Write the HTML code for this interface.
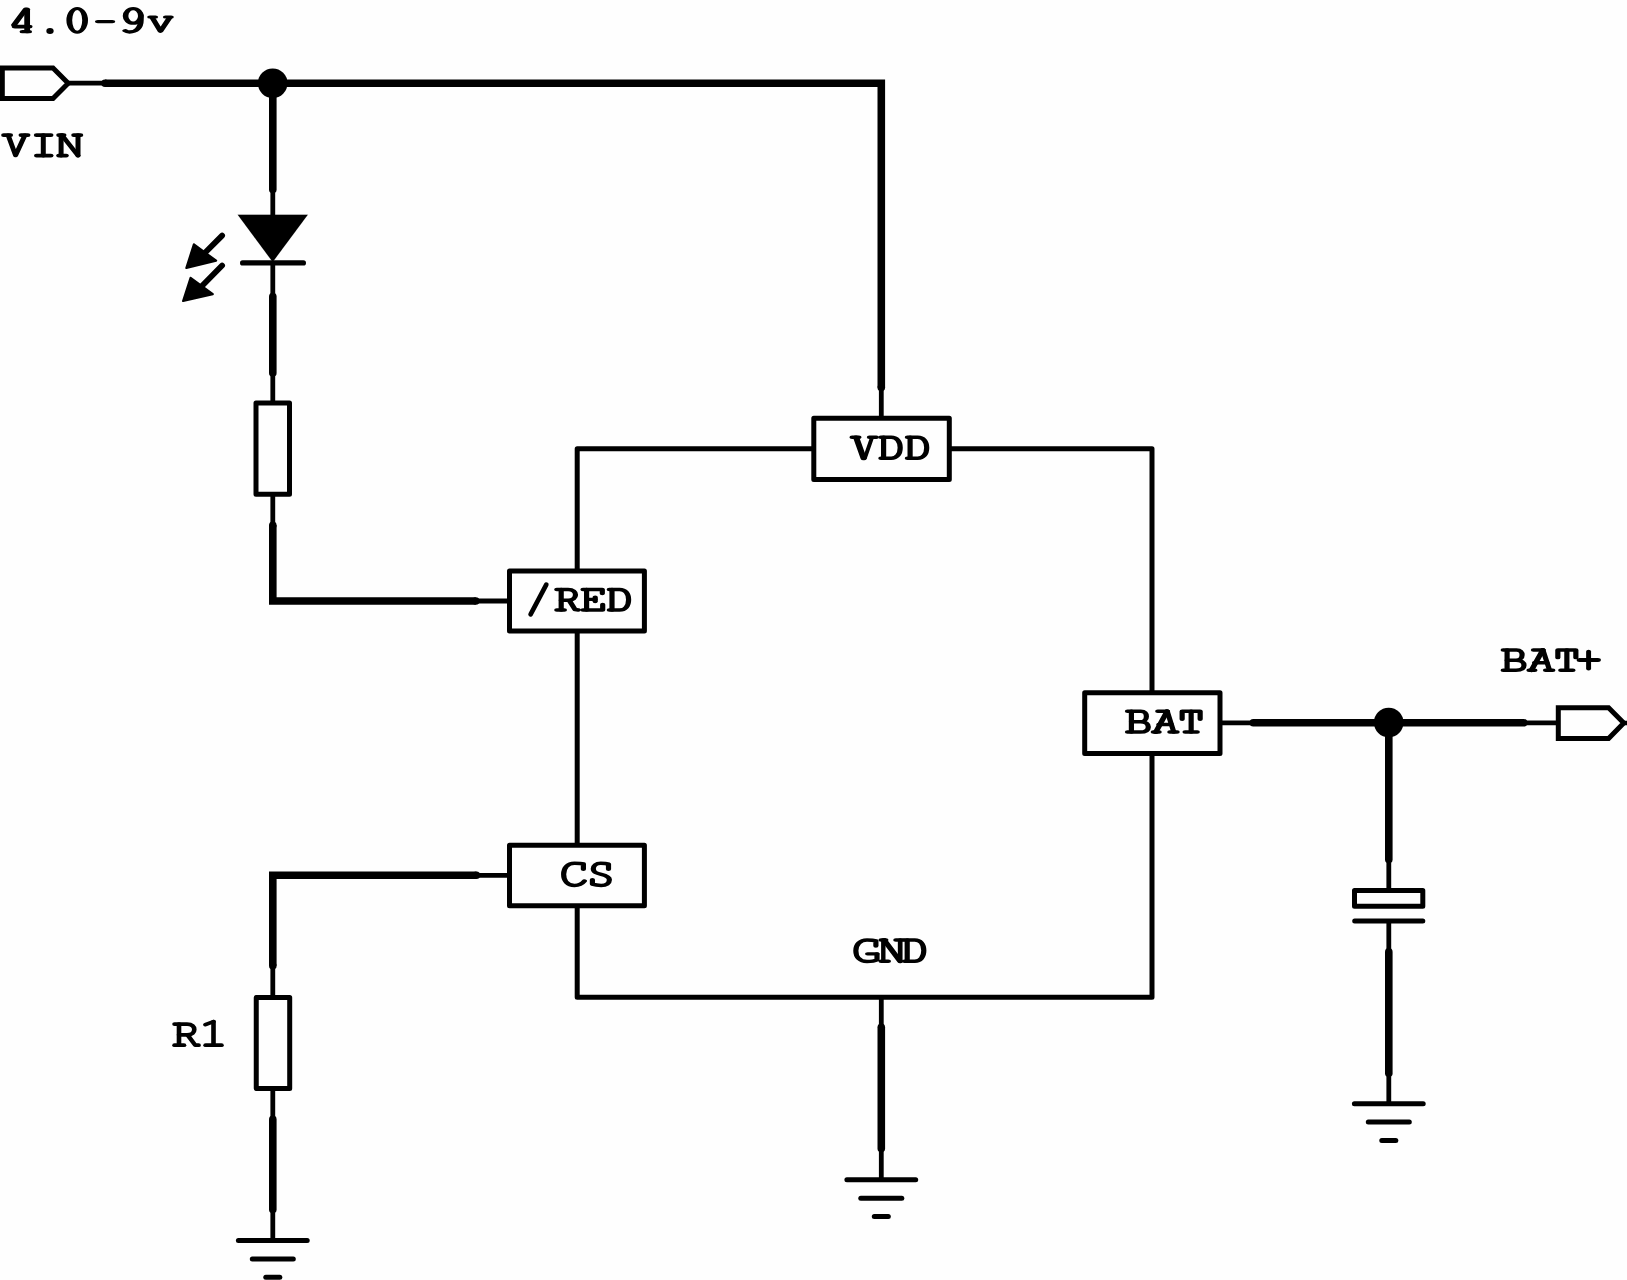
<!DOCTYPE html>
<html><head><meta charset="utf-8"><title>Charger schematic</title>
<style>
html,body{margin:0;padding:0;background:#fefefe;width:1627px;height:1280px;overflow:hidden;}
svg{display:block;}


</style></head><body>
<svg width="1627" height="1280" viewBox="0 0 1627 1280">
<g stroke="#000" fill="none">
<path d="M 2.3 68 L 53 68 L 68.2 83.2 L 53 98.5 L 2.3 98.5 Z" stroke-width="5" fill="none" stroke-linejoin="miter" stroke-miterlimit="4"/>
<line x1="68" y1="83.2" x2="104" y2="83.2" stroke-width="4.8" stroke-linecap="butt"/>
<path d="M 105 83.2 L 881.3 83.2 L 881.3 387.5" stroke-width="7.6" fill="none" stroke-linejoin="miter" stroke-linecap="butt"/>
<circle cx="105" cy="83.2" r="3.8" stroke="none" fill="#000"/>
<circle cx="881.3" cy="387.5" r="3.8" stroke="none" fill="#000"/>
<line x1="881.3" y1="386" x2="881.3" y2="418.3" stroke-width="4.8" stroke-linecap="butt"/>
<circle cx="272.7" cy="83.2" r="14.8" fill="#000" stroke="none"/>
<line x1="272.8" y1="83.2" x2="272.8" y2="189.5" stroke-width="7.6" stroke-linecap="round"/>
<line x1="272.8" y1="188" x2="272.8" y2="216" stroke-width="4.8" stroke-linecap="butt"/>
<polygon points="237.7,214.7 307.8,214.7 272.7,262" stroke-width="0.1" fill="#000" stroke-linejoin="round"/>
<line x1="242.6" y1="262.9" x2="303.4" y2="262.9" stroke-width="5.2" stroke-linecap="round"/>
<line x1="272.8" y1="262" x2="272.8" y2="298" stroke-width="4.8" stroke-linecap="butt"/>
<line x1="272.8" y1="296.5" x2="272.8" y2="373" stroke-width="7.6" stroke-linecap="round"/>
<line x1="272.8" y1="371" x2="272.8" y2="403" stroke-width="4.8" stroke-linecap="butt"/>
<rect x="256" y="402.9" width="33.5" height="91.40000000000003" stroke-width="5.0" fill="none" stroke-linejoin="round"/>
<line x1="272.8" y1="494" x2="272.8" y2="527" stroke-width="4.8" stroke-linecap="butt"/>
<path d="M 272.8 525.3 L 272.8 601 L 475.8 601" stroke-width="7.6" fill="none" stroke-linejoin="miter" stroke-linecap="butt"/>
<circle cx="272.8" cy="525.3" r="3.8" stroke="none" fill="#000"/>
<circle cx="475.8" cy="601" r="3.8" stroke="none" fill="#000"/>
<line x1="474" y1="601" x2="509.5" y2="601" stroke-width="4.8" stroke-linecap="butt"/>
<line x1="222.1" y1="235.6" x2="205" y2="252.7" stroke-width="5.8" stroke-linecap="round"/>
<polygon points="193.9,244.4 216.1,260.7 186.4,267.9" stroke-width="2.2" fill="#000" stroke-linejoin="round"/>
<line x1="222.1" y1="265.5" x2="201.7" y2="286.2" stroke-width="5.8" stroke-linecap="round"/>
<polygon points="190.6,277.9 212.8,294.2 183.1,301" stroke-width="2.2" fill="#000" stroke-linejoin="round"/>
<path d="M 577.2 570.9 L 577.2 448.7 L 813.8 448.7" stroke-width="5.0" fill="none" stroke-linejoin="round" stroke-linecap="butt"/>
<path d="M 949.3 448.7 L 1152 448.7 L 1152 692.7" stroke-width="5.0" fill="none" stroke-linejoin="round" stroke-linecap="butt"/>
<line x1="577.2" y1="631.1" x2="577.2" y2="845.2" stroke-width="5.0" stroke-linecap="butt"/>
<path d="M 577.2 905.7 L 577.2 997.3 L 1152 997.3 L 1152 753.6" stroke-width="5.0" fill="none" stroke-linejoin="round" stroke-linecap="butt"/>
<rect x="813.8" y="418.3" width="135.5" height="61.19999999999999" stroke-width="5.0" fill="none" stroke-linejoin="round"/>
<rect x="509.5" y="570.9" width="134.89999999999998" height="60.200000000000045" stroke-width="5.0" fill="none" stroke-linejoin="round"/>
<rect x="509.5" y="845.2" width="134.89999999999998" height="60.5" stroke-width="5.0" fill="none" stroke-linejoin="round"/>
<rect x="1084.7" y="692.7" width="135.29999999999995" height="60.89999999999998" stroke-width="5.0" fill="none" stroke-linejoin="round"/>
<line x1="474" y1="875.3" x2="509.5" y2="875.3" stroke-width="4.8" stroke-linecap="butt"/>
<path d="M 476.4 875.3 L 272.8 875.3 L 272.8 965.8" stroke-width="7.6" fill="none" stroke-linejoin="miter" stroke-linecap="butt"/>
<circle cx="476.4" cy="875.3" r="3.8" stroke="none" fill="#000"/>
<circle cx="272.8" cy="965.8" r="3.8" stroke="none" fill="#000"/>
<line x1="272.8" y1="964" x2="272.8" y2="998" stroke-width="4.8" stroke-linecap="butt"/>
<rect x="256.25" y="997.5" width="33.44999999999999" height="90.90000000000009" stroke-width="5.0" fill="none" stroke-linejoin="round"/>
<line x1="272.8" y1="1088" x2="272.8" y2="1121" stroke-width="4.8" stroke-linecap="butt"/>
<line x1="272.8" y1="1119.4" x2="272.8" y2="1209.5" stroke-width="7.6" stroke-linecap="round"/>
<line x1="272.8" y1="1208" x2="272.8" y2="1240.5" stroke-width="4.8" stroke-linecap="butt"/>
<line x1="238.4" y1="1240.5" x2="307.2" y2="1240.5" stroke-width="5" stroke-linecap="round"/>
<line x1="252.3" y1="1258.9" x2="293.3" y2="1258.9" stroke-width="5" stroke-linecap="round"/>
<line x1="265.8" y1="1277.3" x2="279.8" y2="1277.3" stroke-width="5" stroke-linecap="round"/>
<line x1="881.3" y1="997.3" x2="881.3" y2="1029" stroke-width="4.8" stroke-linecap="butt"/>
<line x1="881.3" y1="1027.3" x2="881.3" y2="1148.5" stroke-width="7.6" stroke-linecap="round"/>
<line x1="881.3" y1="1147" x2="881.3" y2="1179.8" stroke-width="4.8" stroke-linecap="butt"/>
<line x1="846.9" y1="1179.8" x2="915.6999999999999" y2="1179.8" stroke-width="5" stroke-linecap="round"/>
<line x1="860.8" y1="1198.2" x2="901.8" y2="1198.2" stroke-width="5" stroke-linecap="round"/>
<line x1="874.3" y1="1216.6" x2="888.3" y2="1216.6" stroke-width="5" stroke-linecap="round"/>
<line x1="1220" y1="722.8" x2="1255" y2="722.8" stroke-width="4.8" stroke-linecap="butt"/>
<line x1="1253.3" y1="722.8" x2="1523.7" y2="722.8" stroke-width="7.6" stroke-linecap="round"/>
<line x1="1522" y1="722.8" x2="1558.5" y2="722.8" stroke-width="4.8" stroke-linecap="butt"/>
<circle cx="1388.7" cy="722.5" r="14.8" fill="#000" stroke="none"/>
<line x1="1388.8" y1="722.8" x2="1388.8" y2="859.6" stroke-width="7.6" stroke-linecap="round"/>
<line x1="1388.8" y1="857" x2="1388.8" y2="890.6" stroke-width="4.8" stroke-linecap="butt"/>
<rect x="1354.5" y="890.6" width="68.29999999999995" height="15.600000000000023" stroke-width="5.0" fill="none" stroke-linejoin="round"/>
<line x1="1354.7" y1="920.9" x2="1422.8" y2="920.9" stroke-width="5" stroke-linecap="round"/>
<line x1="1388.8" y1="920.9" x2="1388.8" y2="953" stroke-width="4.8" stroke-linecap="butt"/>
<line x1="1388.8" y1="951.9" x2="1388.8" y2="1073.2" stroke-width="7.6" stroke-linecap="round"/>
<line x1="1388.8" y1="1071" x2="1388.8" y2="1103.7" stroke-width="4.8" stroke-linecap="butt"/>
<line x1="1354.3999999999999" y1="1103.7" x2="1423.2" y2="1103.7" stroke-width="5" stroke-linecap="round"/>
<line x1="1368.3" y1="1122.1000000000001" x2="1409.3" y2="1122.1000000000001" stroke-width="5" stroke-linecap="round"/>
<line x1="1381.8" y1="1140.5" x2="1395.8" y2="1140.5" stroke-width="5" stroke-linecap="round"/>
<path d="M 1558.3 707.7 L 1608.6 707.7 L 1623.8 723 L 1608.6 738.5 L 1558.3 738.5 Z" stroke-width="5" fill="none" stroke-linejoin="miter" stroke-miterlimit="4"/>
<line x1="1622" y1="723" x2="1627" y2="723" stroke-width="4.5" stroke-linecap="butt"/>
<line x1="530.6" y1="614.4" x2="546.3" y2="584.6" stroke-width="4.7" stroke-linecap="round"/>
</g>
<g style="opacity:0.999">
<path d="M 49.80 9.20 L 49.80 31.65" transform="translate(80,0) scale(1.75,1) translate(-80,0)" stroke="#000" stroke-width="3.3" fill="none" stroke-linecap="round" stroke-linejoin="round"/>
<path d="M 49.03 9.20 L 42.29 25.00" transform="translate(80,0) scale(1.75,1) translate(-80,0)" stroke="#000" stroke-width="3.3" fill="none" stroke-linecap="round" stroke-linejoin="round"/>
<path d="M 42.86 26.55 L 50.97 26.55" transform="translate(80,0) scale(1.75,1) translate(-80,0)" stroke="#000" stroke-width="3.8" fill="none" stroke-linecap="round" stroke-linejoin="round"/>
<path d="M 47.09 31.65 L 50.97 31.65" transform="translate(80,0) scale(1.75,1) translate(-80,0)" stroke="#000" stroke-width="3.3" fill="none" stroke-linecap="round" stroke-linejoin="round"/>
<ellipse cx="50" cy="31" rx="3.7" ry="3.05" fill="#000" stroke="none"/>
<path d="M 66.4 20.3 A 10.8 13.4 0 1 0 88 20.3 A 10.8 13.4 0 1 0 66.4 20.3 Z M 72.2 20.35 A 5 10.35 0 1 0 82.2 20.35 A 5 10.35 0 1 0 72.2 20.35 Z" fill="#000" fill-rule="evenodd" stroke="none"/>
<path d="M 90.17 21.60 L 98.51 21.60" transform="translate(80,0) scale(1.75,1) translate(-80,0)" stroke="#000" stroke-width="3.3" fill="none" stroke-linecap="round" stroke-linejoin="round"/>
<ellipse cx="110.40" cy="15.9" rx="4.37" ry="7.3" transform="translate(80,0) scale(1.75,1) translate(-80,0)" stroke="#000" stroke-width="3.2" fill="none"/>
<path d="M 114.77 15.00 L 114.77 20.00 C 114.77 28.00 112.00 32.00 108.29 32.00 C 107.14 32.00 106.46 31.50 105.89 30.80" transform="translate(80,0) scale(1.75,1) translate(-80,0)" stroke="#000" stroke-width="3.3" fill="none" stroke-linecap="round" stroke-linejoin="round"/>
<path d="M 119.89 17.10 L 123.14 17.10" transform="translate(80,0) scale(1.75,1) translate(-80,0)" stroke="#000" stroke-width="3.0" fill="none" stroke-linecap="round" stroke-linejoin="round"/>
<path d="M 128.86 17.10 L 132.11 17.10" transform="translate(80,0) scale(1.75,1) translate(-80,0)" stroke="#000" stroke-width="3.0" fill="none" stroke-linecap="round" stroke-linejoin="round"/>
<path d="M 121.26 17.60 L 126.00 31.30 L 131.20 17.60" transform="translate(80,0) scale(1.75,1) translate(-80,0)" stroke="#000" stroke-width="3.2" fill="none" stroke-linecap="round" stroke-linejoin="round"/>
<path d="M 13.04 135.05 L 18.22 135.05" transform="translate(40,0) scale(1.35,1) translate(-40,0)" stroke="#000" stroke-width="3.7" fill="none" stroke-linecap="round" stroke-linejoin="round"/>
<path d="M 25.93 135.05 L 31.11 135.05" transform="translate(40,0) scale(1.35,1) translate(-40,0)" stroke="#000" stroke-width="3.7" fill="none" stroke-linecap="round" stroke-linejoin="round"/>
<path d="M 16.44 135.30 L 21.93 155.40 L 28.74 135.30" transform="translate(40,0) scale(1.35,1) translate(-40,0)" stroke="#000" stroke-width="3.7" fill="none" stroke-linecap="round" stroke-linejoin="round"/>
<path d="M 37.26 135.05 L 48.15 135.05" transform="translate(40,0) scale(1.35,1) translate(-40,0)" stroke="#000" stroke-width="3.7" fill="none" stroke-linecap="round" stroke-linejoin="round"/>
<path d="M 42.44 135.05 L 42.44 155.60" transform="translate(40,0) scale(1.35,1) translate(-40,0)" stroke="#000" stroke-width="3.7" fill="none" stroke-linecap="round" stroke-linejoin="round"/>
<path d="M 37.41 155.60 L 48.15 155.60" transform="translate(40,0) scale(1.35,1) translate(-40,0)" stroke="#000" stroke-width="3.7" fill="none" stroke-linecap="round" stroke-linejoin="round"/>
<path d="M 53.85 135.05 L 57.78 135.05" transform="translate(40,0) scale(1.35,1) translate(-40,0)" stroke="#000" stroke-width="3.7" fill="none" stroke-linecap="round" stroke-linejoin="round"/>
<path d="M 55.63 135.05 L 55.63 155.60" transform="translate(40,0) scale(1.35,1) translate(-40,0)" stroke="#000" stroke-width="3.7" fill="none" stroke-linecap="round" stroke-linejoin="round"/>
<path d="M 53.85 155.60 L 59.48 155.60" transform="translate(40,0) scale(1.35,1) translate(-40,0)" stroke="#000" stroke-width="3.7" fill="none" stroke-linecap="round" stroke-linejoin="round"/>
<path d="M 56.30 135.30 L 68.15 155.60" transform="translate(40,0) scale(1.35,1) translate(-40,0)" stroke="#000" stroke-width="3.7" fill="none" stroke-linecap="round" stroke-linejoin="round"/>
<path d="M 68.15 135.05 L 68.15 155.60" transform="translate(40,0) scale(1.35,1) translate(-40,0)" stroke="#000" stroke-width="3.7" fill="none" stroke-linecap="round" stroke-linejoin="round"/>
<path d="M 64.96 135.05 L 70.22 135.05" transform="translate(40,0) scale(1.35,1) translate(-40,0)" stroke="#000" stroke-width="3.7" fill="none" stroke-linecap="round" stroke-linejoin="round"/>
<path d="M 179.60 1024.05 L 189.60 1024.05 C 193.84 1024.05 195.44 1026.60 195.44 1029.40 C 195.44 1032.30 193.84 1034.80 189.60 1034.80 L 183.20 1034.80" transform="translate(200,0) scale(1.25,1) translate(-200,0)" stroke="#000" stroke-width="3.7" fill="none" stroke-linecap="round" stroke-linejoin="round"/>
<path d="M 183.20 1024.05 L 183.20 1045.15" transform="translate(200,0) scale(1.25,1) translate(-200,0)" stroke="#000" stroke-width="3.7" fill="none" stroke-linecap="round" stroke-linejoin="round"/>
<path d="M 179.60 1045.15 L 187.20 1045.15" transform="translate(200,0) scale(1.25,1) translate(-200,0)" stroke="#000" stroke-width="3.7" fill="none" stroke-linecap="round" stroke-linejoin="round"/>
<path d="M 190.40 1035.50 L 196.16 1045.15 L 198.88 1045.15" transform="translate(200,0) scale(1.25,1) translate(-200,0)" stroke="#000" stroke-width="3.7" fill="none" stroke-linecap="round" stroke-linejoin="round"/>
<path d="M 210.80 1021.60 L 210.80 1045.15" transform="translate(200,0) scale(1.25,1) translate(-200,0)" stroke="#000" stroke-width="3.7" fill="none" stroke-linecap="round" stroke-linejoin="round"/>
<path d="M 210.80 1021.60 L 204.32 1024.60" transform="translate(200,0) scale(1.25,1) translate(-200,0)" stroke="#000" stroke-width="3.7" fill="none" stroke-linecap="round" stroke-linejoin="round"/>
<path d="M 204.48 1045.15 L 217.20 1045.15" transform="translate(200,0) scale(1.25,1) translate(-200,0)" stroke="#000" stroke-width="3.7" fill="none" stroke-linecap="round" stroke-linejoin="round"/>
<path d="M 855.16 437.20 L 859.77 437.20" transform="translate(861.4,0) scale(1.5,1) translate(-861.4,0)" stroke="#000" stroke-width="3.46" fill="none" stroke-linecap="round" stroke-linejoin="round"/>
<path d="M 866.73 437.20 L 871.37 437.20" transform="translate(861.4,0) scale(1.5,1) translate(-861.4,0)" stroke="#000" stroke-width="3.46" fill="none" stroke-linecap="round" stroke-linejoin="round"/>
<path d="M 857.93 437.50 L 862.87 458.20" transform="translate(861.4,0) scale(1.5,1) translate(-861.4,0)" stroke="#000" stroke-width="4.09" fill="none" stroke-linecap="round" stroke-linejoin="round"/>
<path d="M 868.47 437.50 L 863.67 458.20" transform="translate(861.4,0) scale(1.5,1) translate(-861.4,0)" stroke="#000" stroke-width="2.73" fill="none" stroke-linecap="round" stroke-linejoin="round"/>
<path d="M 883.96 437.20 L 890.87 437.20 C 894.53 437.20 896.87 441.20 896.87 447.70 C 896.87 454.20 894.53 458.20 890.87 458.20 L 883.96 458.20" transform="translate(890.2,0) scale(1.5,1) translate(-890.2,0)" stroke="#000" stroke-width="3.46" fill="none" stroke-linecap="round" stroke-linejoin="round"/>
<path d="M 885.80 437.20 L 885.80 458.20" transform="translate(890.2,0) scale(1.5,1) translate(-890.2,0)" stroke="#000" stroke-width="3.46" fill="none" stroke-linecap="round" stroke-linejoin="round"/>
<path d="M 910.46 437.20 L 917.37 437.20 C 921.03 437.20 923.37 441.20 923.37 447.70 C 923.37 454.20 921.03 458.20 917.37 458.20 L 910.46 458.20" transform="translate(916.7,0) scale(1.5,1) translate(-916.7,0)" stroke="#000" stroke-width="3.46" fill="none" stroke-linecap="round" stroke-linejoin="round"/>
<path d="M 912.30 437.20 L 912.30 458.20" transform="translate(916.7,0) scale(1.5,1) translate(-916.7,0)" stroke="#000" stroke-width="3.46" fill="none" stroke-linecap="round" stroke-linejoin="round"/>
<path d="M 559.86 589.50 L 567.43 589.50 C 570.77 589.50 572.37 591.94 572.37 594.87 C 572.37 597.80 570.77 600.24 567.43 600.24 L 562.83 600.24" transform="translate(566.1,0) scale(1.5,1) translate(-566.1,0)" stroke="#000" stroke-width="3.46" fill="none" stroke-linecap="round" stroke-linejoin="round"/>
<path d="M 562.83 589.50 L 562.83 610.00" transform="translate(566.1,0) scale(1.5,1) translate(-566.1,0)" stroke="#000" stroke-width="3.46" fill="none" stroke-linecap="round" stroke-linejoin="round"/>
<path d="M 559.86 610.00 L 564.97 610.00" transform="translate(566.1,0) scale(1.5,1) translate(-566.1,0)" stroke="#000" stroke-width="3.46" fill="none" stroke-linecap="round" stroke-linejoin="round"/>
<path d="M 568.37 600.73 L 572.10 609.61 L 574.23 610.00" transform="translate(566.1,0) scale(1.5,1) translate(-566.1,0)" stroke="#000" stroke-width="3.57" fill="none" stroke-linecap="round" stroke-linejoin="round"/>
<path d="M 586.06 589.50 L 598.97 589.50 L 598.97 593.60" transform="translate(592.3,0) scale(1.5,1) translate(-592.3,0)" stroke="#000" stroke-width="3.46" fill="none" stroke-linecap="round" stroke-linejoin="round"/>
<path d="M 588.50 589.50 L 588.50 610.00" transform="translate(592.3,0) scale(1.5,1) translate(-592.3,0)" stroke="#000" stroke-width="3.46" fill="none" stroke-linecap="round" stroke-linejoin="round"/>
<path d="M 588.50 599.36 L 594.23 599.36" transform="translate(592.3,0) scale(1.5,1) translate(-592.3,0)" stroke="#000" stroke-width="3.46" fill="none" stroke-linecap="round" stroke-linejoin="round"/>
<path d="M 594.23 597.11 L 594.23 601.60" transform="translate(592.3,0) scale(1.5,1) translate(-592.3,0)" stroke="#000" stroke-width="3.46" fill="none" stroke-linecap="round" stroke-linejoin="round"/>
<path d="M 586.06 610.00 L 599.23 610.00 L 599.23 604.53" transform="translate(592.3,0) scale(1.5,1) translate(-592.3,0)" stroke="#000" stroke-width="3.46" fill="none" stroke-linecap="round" stroke-linejoin="round"/>
<path d="M 612.36 589.50 L 619.27 589.50 C 622.93 589.50 625.27 593.40 625.27 599.75 C 625.27 606.10 622.93 610.00 619.27 610.00 L 612.36 610.00" transform="translate(618.6,0) scale(1.5,1) translate(-618.6,0)" stroke="#000" stroke-width="3.46" fill="none" stroke-linecap="round" stroke-linejoin="round"/>
<path d="M 614.20 589.50 L 614.20 610.00" transform="translate(618.6,0) scale(1.5,1) translate(-618.6,0)" stroke="#000" stroke-width="3.46" fill="none" stroke-linecap="round" stroke-linejoin="round"/>
<path d="M 579.93 869.30 L 579.93 863.90 C 578.33 863.20 576.33 863.20 574.00 863.20 C 569.33 863.20 566.76 867.80 566.76 874.30 C 566.76 880.90 569.33 885.40 574.00 885.40 C 576.67 885.40 579.00 884.10 580.60 881.00" transform="translate(573.0,0) scale(1.5,1) translate(-573.0,0)" stroke="#000" stroke-width="3.46" fill="none" stroke-linecap="round" stroke-linejoin="round"/>
<path d="M 606.40 869.30 L 606.40 864.10 C 604.87 863.30 603.20 863.20 601.20 863.20 C 598.20 863.20 596.27 865.50 596.27 868.80 C 596.27 872.30 598.53 873.30 601.53 874.30 C 604.53 875.30 607.00 876.50 607.00 879.80 C 607.00 883.30 604.87 885.40 601.53 885.40 C 599.20 885.40 597.20 884.90 595.67 884.10 L 595.67 879.80" transform="translate(602.2,0) scale(1.5,1) translate(-602.2,0)" stroke="#000" stroke-width="3.46" fill="none" stroke-linecap="round" stroke-linejoin="round"/>
<path d="M 1130.56 711.20 L 1139.47 711.20 C 1142.00 711.20 1143.20 713.59 1143.20 716.38 C 1143.20 719.56 1141.60 721.85 1139.13 721.85 L 1133.20 721.85 M 1139.13 721.85 C 1142.80 721.85 1144.47 724.04 1144.47 727.02 C 1144.47 730.11 1142.80 732.10 1139.13 732.10 L 1130.56 732.10" transform="translate(1136.8,0) scale(1.5,1) translate(-1136.8,0)" stroke="#000" stroke-width="3.46" fill="none" stroke-linecap="round" stroke-linejoin="round"/>
<path d="M 1133.20 711.20 L 1133.20 732.10" transform="translate(1136.8,0) scale(1.5,1) translate(-1136.8,0)" stroke="#000" stroke-width="3.46" fill="none" stroke-linecap="round" stroke-linejoin="round"/>
<path d="M 1159.33 711.20 L 1165.67 711.20" transform="translate(1162.6,0) scale(1.5,1) translate(-1162.6,0)" stroke="#000" stroke-width="3.46" fill="none" stroke-linecap="round" stroke-linejoin="round"/>
<path d="M 1165.67 711.20 L 1158.07 732.10" transform="translate(1162.6,0) scale(1.5,1) translate(-1162.6,0)" stroke="#000" stroke-width="3.78" fill="none" stroke-linecap="round" stroke-linejoin="round"/>
<path d="M 1165.67 711.20 L 1170.07 732.10" transform="translate(1162.6,0) scale(1.5,1) translate(-1162.6,0)" stroke="#000" stroke-width="3.46" fill="none" stroke-linecap="round" stroke-linejoin="round"/>
<path d="M 1160.07 724.54 L 1168.47 724.54" transform="translate(1162.6,0) scale(1.5,1) translate(-1162.6,0)" stroke="#000" stroke-width="3.46" fill="none" stroke-linecap="round" stroke-linejoin="round"/>
<path d="M 1156.36 732.10 L 1160.33 732.10" transform="translate(1162.6,0) scale(1.5,1) translate(-1162.6,0)" stroke="#000" stroke-width="3.46" fill="none" stroke-linecap="round" stroke-linejoin="round"/>
<path d="M 1167.40 732.10 L 1172.31 732.10" transform="translate(1162.6,0) scale(1.5,1) translate(-1162.6,0)" stroke="#000" stroke-width="3.46" fill="none" stroke-linecap="round" stroke-linejoin="round"/>
<path d="M 1185.26 719.16 L 1185.26 711.20 L 1197.27 711.20 L 1197.27 719.16" transform="translate(1191.5,0) scale(1.5,1) translate(-1191.5,0)" stroke="#000" stroke-width="3.46" fill="none" stroke-linecap="round" stroke-linejoin="round"/>
<path d="M 1191.27 711.20 L 1191.27 732.10" transform="translate(1191.5,0) scale(1.5,1) translate(-1191.5,0)" stroke="#000" stroke-width="3.46" fill="none" stroke-linecap="round" stroke-linejoin="round"/>
<path d="M 1187.17 732.10 L 1195.37 732.10" transform="translate(1191.5,0) scale(1.5,1) translate(-1191.5,0)" stroke="#000" stroke-width="3.46" fill="none" stroke-linecap="round" stroke-linejoin="round"/>
<path d="M 872.33 946.12 L 872.33 940.82 C 870.40 939.90 868.40 939.90 866.40 939.90 C 861.73 939.90 858.96 944.59 858.96 950.80 C 858.96 957.33 861.73 961.50 866.40 961.50 C 869.40 961.50 871.73 960.89 873.07 959.87 L 873.07 953.86" transform="translate(865.2,0) scale(1.5,1) translate(-865.2,0)" stroke="#000" stroke-width="3.46" fill="none" stroke-linecap="round" stroke-linejoin="round"/>
<path d="M 866.80 953.86 L 873.07 953.86" transform="translate(865.2,0) scale(1.5,1) translate(-865.2,0)" stroke="#000" stroke-width="3.46" fill="none" stroke-linecap="round" stroke-linejoin="round"/>
<path d="M 884.16 939.90 L 887.40 939.90" transform="translate(890.4,0) scale(1.5,1) translate(-890.4,0)" stroke="#000" stroke-width="3.46" fill="none" stroke-linecap="round" stroke-linejoin="round"/>
<path d="M 885.67 939.90 L 885.67 961.30" transform="translate(890.4,0) scale(1.5,1) translate(-890.4,0)" stroke="#000" stroke-width="2.94" fill="none" stroke-linecap="round" stroke-linejoin="round"/>
<path d="M 884.16 961.30 L 889.07 961.30" transform="translate(890.4,0) scale(1.5,1) translate(-890.4,0)" stroke="#000" stroke-width="3.46" fill="none" stroke-linecap="round" stroke-linejoin="round"/>
<path d="M 886.27 940.10 L 896.93 961.30" transform="translate(890.4,0) scale(1.5,1) translate(-890.4,0)" stroke="#000" stroke-width="3.89" fill="none" stroke-linecap="round" stroke-linejoin="round"/>
<path d="M 896.93 939.90 L 896.93 961.30" transform="translate(890.4,0) scale(1.5,1) translate(-890.4,0)" stroke="#000" stroke-width="3.15" fill="none" stroke-linecap="round" stroke-linejoin="round"/>
<path d="M 894.00 939.90 L 898.73 939.90" transform="translate(890.4,0) scale(1.5,1) translate(-890.4,0)" stroke="#000" stroke-width="3.46" fill="none" stroke-linecap="round" stroke-linejoin="round"/>
<path d="M 907.56 939.90 L 914.47 939.90 C 918.13 939.90 920.47 943.98 920.47 950.60 C 920.47 957.22 918.13 961.30 914.47 961.30 L 907.56 961.30" transform="translate(913.8,0) scale(1.5,1) translate(-913.8,0)" stroke="#000" stroke-width="3.46" fill="none" stroke-linecap="round" stroke-linejoin="round"/>
<path d="M 909.40 939.90 L 909.40 961.30" transform="translate(913.8,0) scale(1.5,1) translate(-913.8,0)" stroke="#000" stroke-width="3.46" fill="none" stroke-linecap="round" stroke-linejoin="round"/>
<path d="M 1506.26 649.90 L 1515.17 649.90 C 1517.70 649.90 1518.90 652.22 1518.90 654.93 C 1518.90 658.02 1517.30 660.24 1514.83 660.24 L 1508.90 660.24 M 1514.83 660.24 C 1518.50 660.24 1520.17 662.37 1520.17 665.27 C 1520.17 668.27 1518.50 670.20 1514.83 670.20 L 1506.26 670.20" transform="translate(1512.5,0) scale(1.5,1) translate(-1512.5,0)" stroke="#000" stroke-width="3.46" fill="none" stroke-linecap="round" stroke-linejoin="round"/>
<path d="M 1508.90 649.90 L 1508.90 670.20" transform="translate(1512.5,0) scale(1.5,1) translate(-1512.5,0)" stroke="#000" stroke-width="3.46" fill="none" stroke-linecap="round" stroke-linejoin="round"/>
<path d="M 1535.03 649.90 L 1541.37 649.90" transform="translate(1538.3,0) scale(1.5,1) translate(-1538.3,0)" stroke="#000" stroke-width="3.46" fill="none" stroke-linecap="round" stroke-linejoin="round"/>
<path d="M 1541.37 649.90 L 1533.77 670.20" transform="translate(1538.3,0) scale(1.5,1) translate(-1538.3,0)" stroke="#000" stroke-width="3.78" fill="none" stroke-linecap="round" stroke-linejoin="round"/>
<path d="M 1541.37 649.90 L 1545.77 670.20" transform="translate(1538.3,0) scale(1.5,1) translate(-1538.3,0)" stroke="#000" stroke-width="3.46" fill="none" stroke-linecap="round" stroke-linejoin="round"/>
<path d="M 1535.77 662.85 L 1544.17 662.85" transform="translate(1538.3,0) scale(1.5,1) translate(-1538.3,0)" stroke="#000" stroke-width="3.46" fill="none" stroke-linecap="round" stroke-linejoin="round"/>
<path d="M 1532.06 670.20 L 1536.03 670.20" transform="translate(1538.3,0) scale(1.5,1) translate(-1538.3,0)" stroke="#000" stroke-width="3.46" fill="none" stroke-linecap="round" stroke-linejoin="round"/>
<path d="M 1543.10 670.20 L 1548.01 670.20" transform="translate(1538.3,0) scale(1.5,1) translate(-1538.3,0)" stroke="#000" stroke-width="3.46" fill="none" stroke-linecap="round" stroke-linejoin="round"/>
<path d="M 1560.96 657.63 L 1560.96 649.90 L 1572.97 649.90 L 1572.97 657.63" transform="translate(1567.2,0) scale(1.5,1) translate(-1567.2,0)" stroke="#000" stroke-width="3.46" fill="none" stroke-linecap="round" stroke-linejoin="round"/>
<path d="M 1566.97 649.90 L 1566.97 670.20" transform="translate(1567.2,0) scale(1.5,1) translate(-1567.2,0)" stroke="#000" stroke-width="3.46" fill="none" stroke-linecap="round" stroke-linejoin="round"/>
<path d="M 1562.87 670.20 L 1571.07 670.20" transform="translate(1567.2,0) scale(1.5,1) translate(-1567.2,0)" stroke="#000" stroke-width="3.46" fill="none" stroke-linecap="round" stroke-linejoin="round"/>
<path d="M 1582.33 660.00 L 1594.67 660.00" transform="translate(1588,0) scale(1.5,1) translate(-1588,0)" stroke="#000" stroke-width="3.8" fill="none" stroke-linecap="round" stroke-linejoin="round"/>
<path d="M 1588.40 651.50 L 1588.40 668.80" transform="translate(1588,0) scale(1.5,1) translate(-1588,0)" stroke="#000" stroke-width="3.3" fill="none" stroke-linecap="round" stroke-linejoin="round"/>
</g>
</svg>
</body></html>
